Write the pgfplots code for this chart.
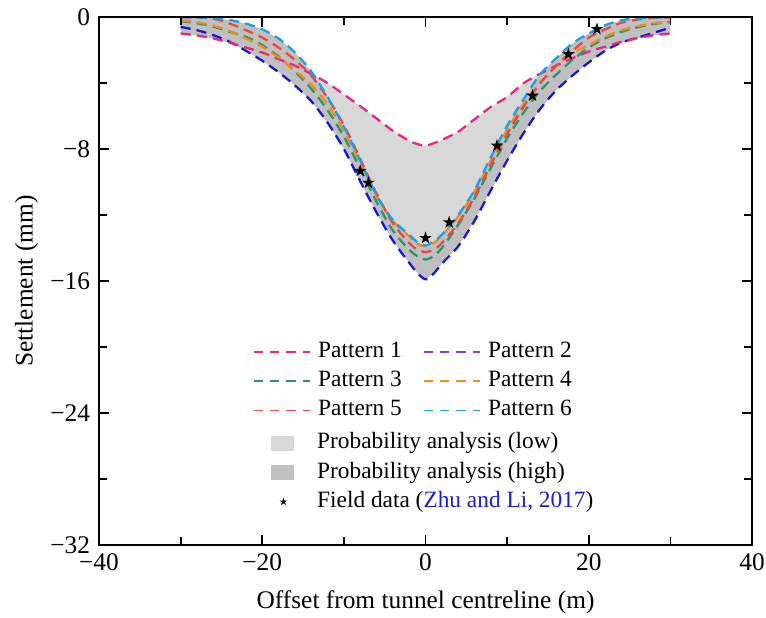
\documentclass[border=0pt]{standalone}
\usepackage{fontspec}
\setmainfont{Liberation Serif}
\usepackage{pgfplots}
\usepackage{pgfplotstable}
\pgfplotsset{compat=1.18}

\definecolor{pone}{RGB}{232,38,132}
\definecolor{ptwo}{RGB}{138,62,228}
\definecolor{pthree}{RGB}{44,150,104}
\definecolor{pfour}{RGB}{242,138,30}
\definecolor{pfive}{RGB}{232,72,72}
\definecolor{psix}{RGB}{32,158,226}
\definecolor{lowline}{RGB}{22,22,212}
\definecolor{lowgray}{RGB}{216,216,216}
\definecolor{highgray}{RGB}{192,192,192}
\definecolor{refblue}{RGB}{30,30,200}

% filled five-point star
\pgfdeclareplotmark{fstar}{%
  \pgfpathmoveto{\pgfpoint{0pt}{\pgfplotmarksize}}%
  \pgfpathlineto{\pgfpoint{-0.225\pgfplotmarksize}{0.309\pgfplotmarksize}}%
  \pgfpathlineto{\pgfpoint{-0.951\pgfplotmarksize}{0.309\pgfplotmarksize}}%
  \pgfpathlineto{\pgfpoint{-0.363\pgfplotmarksize}{-0.118\pgfplotmarksize}}%
  \pgfpathlineto{\pgfpoint{-0.588\pgfplotmarksize}{-0.809\pgfplotmarksize}}%
  \pgfpathlineto{\pgfpoint{0pt}{-0.382\pgfplotmarksize}}%
  \pgfpathlineto{\pgfpoint{0.588\pgfplotmarksize}{-0.809\pgfplotmarksize}}%
  \pgfpathlineto{\pgfpoint{0.363\pgfplotmarksize}{-0.118\pgfplotmarksize}}%
  \pgfpathlineto{\pgfpoint{0.951\pgfplotmarksize}{0.309\pgfplotmarksize}}%
  \pgfpathlineto{\pgfpoint{0.225\pgfplotmarksize}{0.309\pgfplotmarksize}}%
  \pgfpathclose
  \pgfusepathqfill}

% settlement troughs (mm) against offset (m)
\pgfplotstableread{
x    p1     p3      p4      p5      p6      lo
-30  -1.00  -0.25   -0.20   -0.02   -0.02   -0.60
-28  -1.12  -0.38   -0.32   -0.03   -0.03   -0.80
-26  -1.30  -0.58   -0.52   -0.10   -0.07   -1.10
-24  -1.55  -0.90   -0.85   -0.40   -0.18   -1.50
-22  -1.85  -1.20   -1.30   -0.80   -0.40   -2.05
-20  -2.15  -1.70   -1.80   -1.25   -0.75   -2.65
-18  -2.55  -2.40   -2.45   -1.85   -1.30   -3.35
-16  -2.95  -3.30   -3.25   -2.60   -2.15   -4.15
-14  -3.45  -4.35   -4.10   -3.55   -3.30   -5.10
-12  -4.00  -5.65   -5.30   -4.90   -4.85   -6.40
-10  -4.70  -7.25   -6.90   -6.55   -6.65   -8.00
-8   -5.40  -9.20   -8.85   -8.60   -8.70   -9.95
-6   -6.15  -11.20  -10.85  -10.70  -10.80  -11.85
-4   -6.90  -12.95  -12.35  -12.50  -12.30  -13.55
-2   -7.50  -14.10  -13.30  -13.70  -13.20  -14.90
-1   -7.70  -14.50  -13.75  -14.10  -13.65  -15.50
0    -7.80  -14.70  -13.90  -14.25  -13.85  -15.90
1    -7.65  -14.50  -13.70  -14.10  -13.60  -15.55
2    -7.45  -14.00  -13.25  -13.70  -13.20  -14.95
4    -6.95  -12.60  -12.10  -12.50  -12.00  -13.90
6    -6.20  -11.00  -10.60  -10.90  -10.50  -12.35
8    -5.45  -9.15   -8.70   -8.95   -8.50   -10.50
10   -4.85  -7.35   -6.85   -7.10   -6.60   -8.70
12   -4.02  -5.80   -5.30   -5.45   -5.00   -7.05
14   -3.45  -4.50   -4.00   -4.05   -3.50   -5.60
16   -2.95  -3.50   -3.00   -2.95   -2.50   -4.45
18   -2.50  -2.60   -2.20   -2.05   -1.60   -3.55
20   -2.10  -1.85   -1.70   -1.25   -1.00   -2.75
22   -1.80  -1.30   -1.20   -0.75   -0.50   -2.05
24   -1.50  -0.90   -0.80   -0.35   -0.20   -1.55
26   -1.28  -0.62   -0.55   -0.15   -0.07   -1.25
28   -1.10  -0.42   -0.38   -0.05   -0.03   -0.95
30   -1.00  -0.30   -0.28   -0.02   -0.02   -0.65
}\curves

\pgfplotsset{
  trough/.style={line width=0.9pt, dash pattern=on 4pt off 2.4pt, smooth},
  legendrows/.style={
    draw=none, fill=none, inner sep=0pt, font=\fontsize{9.2}{11}\selectfont,
    nodes={text height=6.6pt, text depth=2.3pt, inner sep=1.3pt},
  },
}

\begin{document}
\begin{tikzpicture}
\path[use as bounding box] (-39pt,-28.4pt) rectangle (262.8pt,214.7pt);
\begin{axis}[
  at={(0pt,0pt)}, anchor=south west,
  scale only axis, width=257.3pt, height=208pt,
  xmin=-40, xmax=40, ymin=-32, ymax=0,
  xtick={-40,-20,0,20,40},
  xticklabels={\mbox{−40},\mbox{−20},0,20,40},
  ytick={-32,-24,-16,-8,0},
  yticklabels={\mbox{−32},\mbox{−24},\mbox{−16},\mbox{−8},0},
  minor tick num=1,
  tick align=inside,
  major tick length=4pt, minor tick length=3pt,
  tick style={black, line width=0.7pt},
  axis line style={line width=0.8pt},
  xlabel={Offset from tunnel centreline (m)},
  ylabel={Settlement (mm)},
  xlabel style={at={(axis description cs:0.5,-0.108)}, anchor=center},
  ylabel style={at={(axis description cs:-0.111,0.5)}, anchor=center},
  axis on top,
  legend columns=2,
  legend cell align=left,
  legend style={legendrows, at={(axis cs:-21.2,-19.4)}, anchor=north west,
    /tikz/every even column/.append style={column sep=7pt}},
  legend image code/.code={\draw[#1] (0pt,0pt) -- (22pt,0pt);
    \path[draw=none] (24pt,0pt);},
]
% probability bands
\addplot[fill=highgray, draw=none, forget plot] coordinates {
  (-30,0) (-28,-0.03) (-26,-0.07) (-24,-0.18) (-22,-0.40) (-20,-0.75)
  (-18,-1.30) (-16,-2.15) (-14,-3.30) (-12,-4.85) (-10,-6.65) (-8,-8.70)
  (-6,-10.80) (-4,-12.30) (-2,-13.20) (-1,-13.65) (0,-13.85) (1,-13.60)
  (2,-13.20) (4,-12.00) (6,-10.50) (8,-8.50) (10,-6.60) (12,-5.00)
  (14,-3.50) (16,-2.50) (18,-1.60) (20,-1.00) (22,-0.50) (24,-0.20)
  (26,-0.07) (28,-0.03) (30,0)
  (30,-1.00) (28,-1.10) (26,-1.28) (24,-1.55) (22,-2.05) (20,-2.75)
  (18,-3.55) (16,-4.45) (14,-5.60) (12,-7.05) (10,-8.70) (8,-10.50)
  (6,-12.35) (4,-13.90) (2,-14.95) (1,-15.55) (0,-15.90) (-1,-15.50)
  (-2,-14.90) (-4,-13.55) (-6,-11.85) (-8,-9.95) (-10,-8.00) (-12,-6.40)
  (-14,-5.10) (-16,-4.15) (-18,-3.35) (-20,-2.65) (-22,-2.05) (-24,-1.55)
  (-26,-1.30) (-28,-1.12) (-30,-1.00)
};
\addplot[fill=lowgray, draw=none, forget plot] coordinates {
  (-13.7,-3.53) (-12,-4.00) (-10,-4.70) (-8,-5.40) (-6,-6.15) (-4,-6.90)
  (-2,-7.50) (-1,-7.70) (0,-7.80) (1,-7.65) (2,-7.45) (4,-6.95)
  (6,-6.20) (8,-5.45) (10,-4.85) (12,-4.02) (14,-3.45) (14.2,-3.40)
  (14,-3.50) (12,-5.00) (10,-6.60) (8,-8.50) (6,-10.50) (4,-12.00)
  (2,-13.20) (1,-13.60) (0,-13.85) (-1,-13.65) (-2,-13.20) (-4,-12.30)
  (-6,-10.80) (-8,-8.70) (-10,-6.65) (-12,-4.85)
};
% patterns
\addplot[trough, lowline, forget plot] table[x=x, y=lo] {\curves};
\addplot[trough, pone, forget plot] table[x=x, y=p1] {\curves};
\addplot[trough, pthree, forget plot] table[x=x, y=p3] {\curves};
\addplot[trough, pfour, forget plot] table[x=x, y=p4] {\curves};
\addplot[trough, pfive, forget plot] table[x=x, y=p5] {\curves};
\addplot[trough, psix, forget plot] table[x=x, y=p6] {\curves};
% field data
\addplot[only marks, mark=fstar, mark size=2.6pt, black, forget plot] coordinates {
  (-8,-9.33) (-7,-10.05) (0,-13.4) (2.9,-12.45) (8.75,-7.8) (13.1,-4.77)
  (17.5,-2.26) (21,-0.73)
};
\addlegendimage{pone, line width=0.8pt, dash pattern=on 3.6pt off 2.8pt}
\addlegendentry{Pattern 1}
\addlegendimage{ptwo, line width=0.8pt, dash pattern=on 3.6pt off 2.8pt}
\addlegendentry{Pattern 2}
\addlegendimage{pthree, line width=0.8pt, dash pattern=on 3.6pt off 2.8pt}
\addlegendentry{Pattern 3}
\addlegendimage{pfour, line width=0.8pt, dash pattern=on 3.6pt off 2.8pt}
\addlegendentry{Pattern 4}
\addlegendimage{pfive, line width=0.6pt, dash pattern=on 3.6pt off 2.8pt}
\addlegendentry{Pattern 5}
\addlegendimage{psix, line width=0.6pt, dash pattern=on 3.6pt off 2.8pt}
\addlegendentry{Pattern 6}
\end{axis}
% second legend (bands and field data)
\begin{axis}[
  at={(0pt,0pt)}, anchor=south west,
  scale only axis, width=257.3pt, height=208pt,
  xmin=-40, xmax=40, ymin=-32, ymax=0,
  hide axis,
  legend cell align=left,
  legend style={legendrows, at={(axis cs:-21.2,-24.93)}, anchor=north west},
]
\addlegendimage{legend image code/.code={\path[draw=none] (0pt,0pt) (24pt,0pt);
  \fill[lowgray, draw=none] (7pt,-3pt) rectangle (16pt,3pt);}}
\addlegendentry{Probability analysis (low)}
\addlegendimage{legend image code/.code={\path[draw=none] (0pt,0pt) (24pt,0pt);
  \fill[highgray, draw=none] (7pt,-3pt) rectangle (16pt,3pt);}}
\addlegendentry{Probability analysis (high)}
\addlegendimage{legend image code/.code={\path[draw=none] (0pt,0pt) (24pt,0pt);
  \path[draw=none, fill=black, mark=fstar, mark size=1.6pt,
    mark options={fill=black, draw=none}] plot coordinates {(12pt,0pt)};}}
\addlegendentry{Field data ({\color{refblue}Zhu and Li, 2017})}
\end{axis}
\end{tikzpicture}
\end{document}
